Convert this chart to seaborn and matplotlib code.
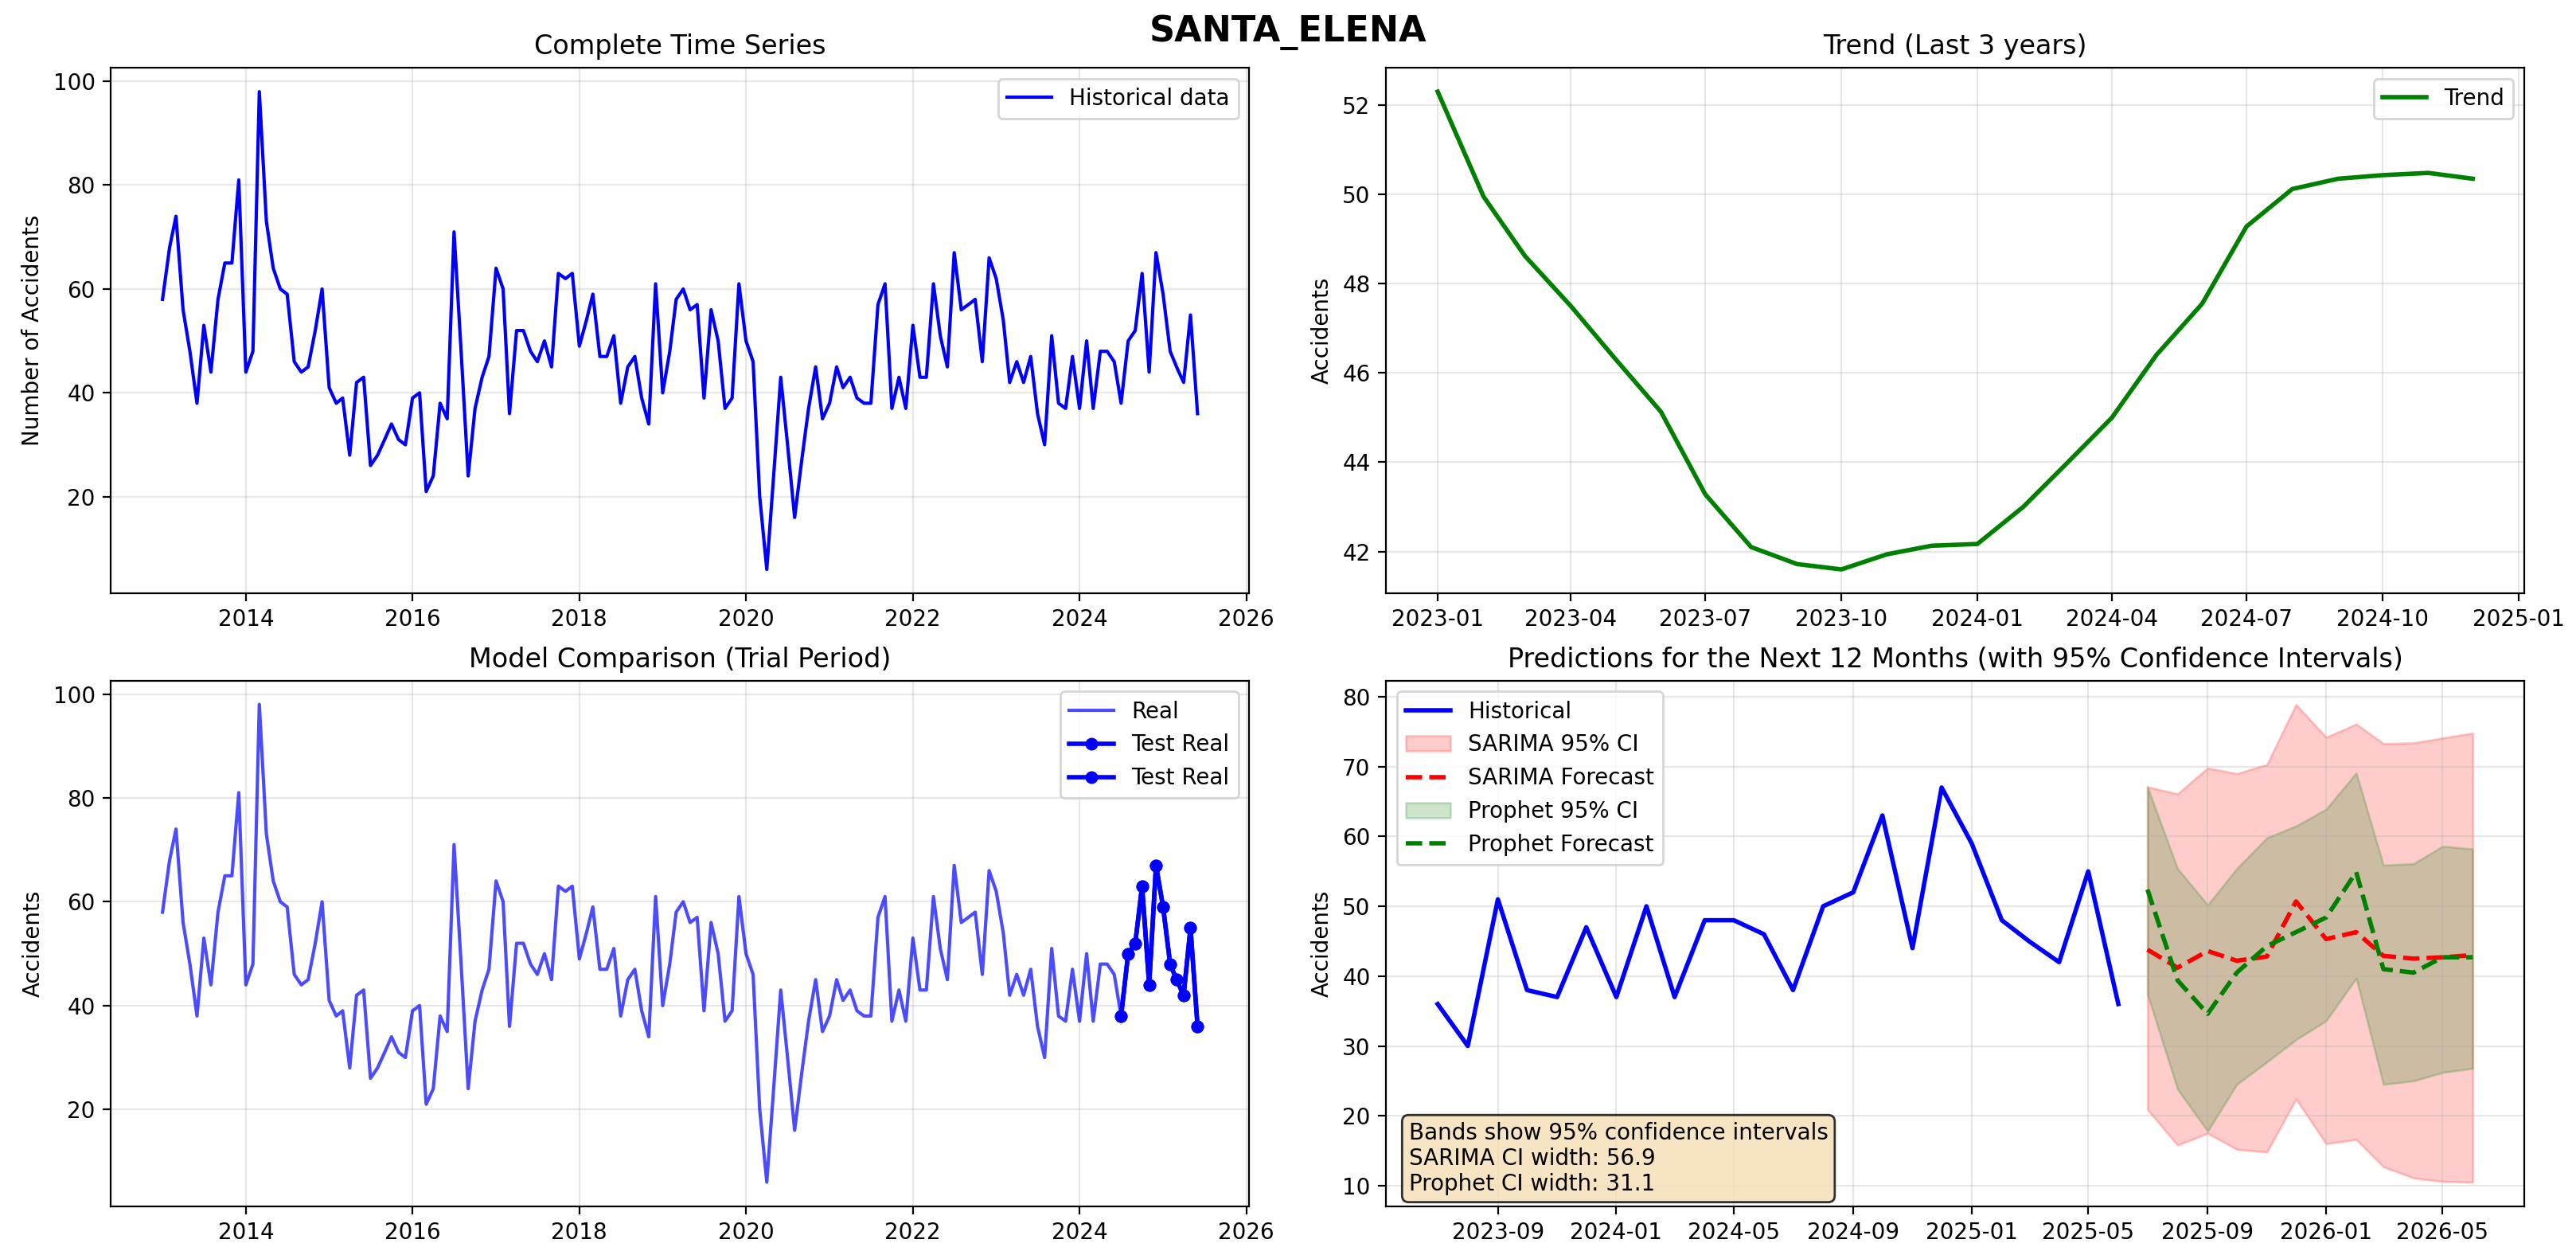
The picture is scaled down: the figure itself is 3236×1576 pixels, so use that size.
import pandas as pd
import seaborn as sns
import matplotlib
matplotlib.use("Agg")
import matplotlib.pyplot as plt
import numpy as np

# monthly accidents, 2013-01 .. 2025-06
accidents = [
    58, 68, 74, 56, 48, 38, 53, 44, 58, 65, 65, 81,
    44, 48, 98, 73, 64, 60, 59, 46, 44, 45, 52, 60,
    41, 38, 39, 28, 42, 43, 26, 28, 31, 34, 31, 30,
    39, 40, 21, 24, 38, 35, 71, 48, 24, 37, 43, 47,
    64, 60, 36, 52, 52, 48, 46, 50, 45, 63, 62, 63,
    49, 54, 59, 47, 47, 51, 38, 45, 47, 39, 34, 61,
    40, 48, 58, 60, 56, 57, 39, 56, 50, 37, 39, 61,
    50, 46, 20, 6, 24, 43, 30, 16, 27, 37, 45, 35,
    38, 45, 41, 43, 39, 38, 38, 57, 61, 37, 43, 37,
    53, 43, 43, 61, 51, 45, 67, 56, 57, 58, 46, 66,
    62, 54, 42, 46, 42, 47, 36, 30, 51, 38, 37, 47,
    37, 50, 37, 48, 48, 46, 38, 50, 52, 63, 44, 67,
    59, 48, 45, 42, 55, 36,
]
dates = pd.date_range("2013-01-01", periods=len(accidents), freq="MS")

# trend component 2023-01 .. 2024-12
trend = [52.3, 49.95, 48.62, 47.5, 46.32, 45.13, 43.28, 42.1, 41.72, 41.6, 41.94, 42.13,
         42.17, 43.0, 43.96, 45.0, 46.4, 47.55, 49.28, 50.12, 50.35, 50.43, 50.48, 50.35]
trend_dates = pd.date_range("2023-01-01", periods=len(trend), freq="MS")

# forecasts 2025-07 .. 2026-06
fc_dates = pd.date_range("2025-07-01", periods=12, freq="MS")
sarima_fc = [43.8, 41.2, 43.6, 42.2, 42.8, 50.7, 45.3, 46.3, 42.9, 42.5, 42.7, 43.0]
sarima_up = [67.1, 66.1, 69.8, 69.0, 70.3, 78.9, 74.2, 76.1, 73.3, 73.4, 74.1, 74.8]
sarima_lo = [20.9, 15.8, 17.5, 15.2, 14.8, 22.4, 16.0, 16.6, 12.7, 11.1, 10.6, 10.5]
prophet_fc = [52.4, 39.4, 34.6, 40.5, 44.3, 46.3, 48.4, 54.9, 41.0, 40.5, 42.7, 42.7]
prophet_up = [67.1, 55.4, 50.2, 55.4, 59.8, 61.5, 63.9, 69.1, 55.9, 56.1, 58.6, 58.2]
prophet_lo = [37.4, 23.8, 17.8, 24.5, 27.7, 30.9, 33.6, 39.7, 24.5, 25.0, 26.2, 26.8]

df = pd.DataFrame({"date": dates, "accidents": accidents})
df_trend = pd.DataFrame({"date": trend_dates, "trend": trend})
df_fc = pd.DataFrame({"date": fc_dates, "sarima": sarima_fc, "sarima_lo": sarima_lo,
                      "sarima_up": sarima_up, "prophet": prophet_fc,
                      "prophet_lo": prophet_lo, "prophet_up": prophet_up})
test = df.iloc[-12:]
recent = df.iloc[-24:]

fig, axes = plt.subplots(2, 2, figsize=(16.18, 7.88))
fig.suptitle("SANTA_ELENA", fontsize=16, fontweight="bold", y=0.988)

ax = axes[0, 0]
sns.lineplot(data=df, x="date", y="accidents", ax=ax, color="blue", linewidth=1.5,
             label="Historical data")
ax.set_title("Complete Time Series")
ax.set_xlabel("")
ax.set_ylabel("Number of Accidents")
ax.legend(loc="upper right")
ax.grid(True, alpha=0.3)

ax = axes[0, 1]
sns.lineplot(data=df_trend, x="date", y="trend", ax=ax, color="green", linewidth=2,
             label="Trend")
ax.set_title("Trend (Last 3 years)")
ax.set_xlabel("")
ax.set_ylabel("Accidents")
ax.legend(loc="upper right")
ax.grid(True, alpha=0.3)

ax = axes[1, 0]
sns.lineplot(data=df, x="date", y="accidents", ax=ax, color="blue", alpha=0.7,
             linewidth=1.5, label="Real")
for i in range(2):
    sns.lineplot(data=test, x="date", y="accidents", ax=ax, color="blue", linewidth=2,
                 marker="o", markersize=5, markeredgecolor="blue", label="Test Real")
ax.set_title("Model Comparison (Trial Period)")
ax.set_xlabel("")
ax.set_ylabel("Accidents")
ax.legend(loc="upper right")
ax.grid(True, alpha=0.3)

ax = axes[1, 1]
sns.lineplot(data=recent, x="date", y="accidents", ax=ax, color="blue", linewidth=2,
             label="Historical")
ax.fill_between(df_fc["date"], df_fc["sarima_lo"], df_fc["sarima_up"], color="red",
                alpha=0.2, label="SARIMA 95% CI")
sns.lineplot(data=df_fc, x="date", y="sarima", ax=ax, color="red", linestyle="--",
             linewidth=2, label="SARIMA Forecast")
ax.fill_between(df_fc["date"], df_fc["prophet_lo"], df_fc["prophet_up"], color="green",
                alpha=0.2, label="Prophet 95% CI")
sns.lineplot(data=df_fc, x="date", y="prophet", ax=ax, color="green", linestyle="--",
             linewidth=2, label="Prophet Forecast")
ax.set_title("Predictions for the Next 12 Months (with 95% Confidence Intervals)")
ax.set_xlabel("")
ax.set_ylabel("Accidents")
ax.legend(loc="upper left")
ax.grid(True, alpha=0.3)

sarima_w = np.mean(np.array(sarima_up) - np.array(sarima_lo))
prophet_w = np.mean(np.array(prophet_up) - np.array(prophet_lo))
ax.text(0.02, 0.02,
        "Bands show 95% confidence intervals\n"
        f"SARIMA CI width: {sarima_w:.1f}\nProphet CI width: {prophet_w:.1f}",
        transform=ax.transAxes, fontsize=10, va="bottom",
        bbox=dict(boxstyle="round", facecolor="wheat", alpha=0.8))

plt.subplots_adjust(left=0.043, right=0.98, top=0.946, bottom=0.039,
                    wspace=0.12, hspace=0.166)
plt.savefig("out.png", dpi=200)
